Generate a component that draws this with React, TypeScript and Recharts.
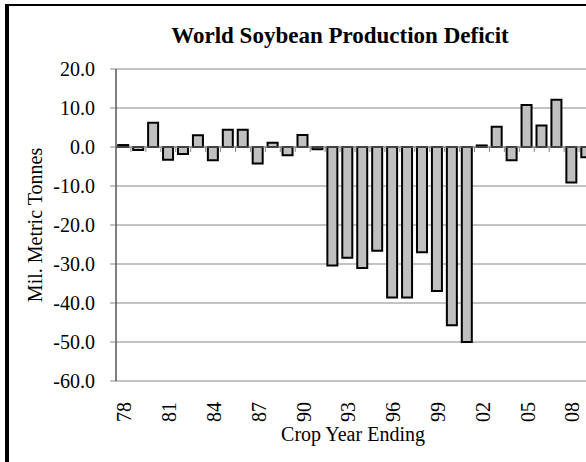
import React from 'react'
import { Bar, BarChart, CartesianGrid, Label, ReferenceLine, XAxis, YAxis } from 'recharts'

// crop years, two-digit, 1978 through 2009
const YEARS = [
  '78', '79', '80', '81', '82', '83', '84', '85', '86', '87', '88',
  '89', '90', '91', '92', '93', '94', '95', '96', '97', '98', '99',
  '00', '01', '02', '03', '04', '05', '06', '07', '08', '09',
]

// production deficit, million metric tonnes
const DEFICIT = [
  0.5, -0.8, 6.2, -3.3, -1.8, 3.0, -3.4, 4.4, 4.4, -4.2, 1.1,
  -2.1, 3.1, -0.6, -30.4, -28.4, -31.0, -26.6, -38.6, -38.6, -27.0, -36.9,
  -45.7, -50.0, 0.4, 5.2, -3.4, 10.8, 5.5, 12.1, -9.1, -2.6,
]

const Y_TICKS = [-60, -50, -40, -30, -20, -10, 0, 10, 20]

const data = YEARS.map((year, i) => ({ year, deficit: DEFICIT[i] }))

const FONT = "'Liberation Serif', 'Times New Roman', serif"
const GRID = '#868686'
const TEXT_STYLE = { fontFamily: FONT, fontSize: 20 }

function YearTick({ x, y, payload }: any) {
  return (
    <g transform={`translate(${x + 1},${y})`}>
      <text transform="rotate(-90)" textAnchor="end" dy="0.34em" fill="#000" style={TEXT_STYLE}>
        {payload.value}
      </text>
    </g>
  )
}

function ValueTick({ x, y, payload }: any) {
  return (
    <text x={x} y={y} textAnchor="end" dy="0.34em" fill="#000" style={TEXT_STYLE}>
      {payload.value.toFixed(1)}
    </text>
  )
}

// zero line with the category tick marks hanging below it
function ZeroAxis({ x1, x2, y1 }: any) {
  const step = (x2 - x1) / YEARS.length
  const marks = YEARS.map((_, i) => x1 + step * (i + 1))
  return (
    <g>
      <line x1={x1} x2={x2} y1={y1} y2={y1} stroke={GRID} strokeWidth={1} />
      {marks.map((mx) => (
        <line key={mx} x1={mx} x2={mx} y1={y1} y2={y1 + 5} stroke={GRID} strokeWidth={1} />
      ))}
    </g>
  )
}

export default function App() {
  return (
    <div
      style={{
        position: 'absolute',
        left: 0,
        top: 0,
        width: 586,
        height: 462,
        overflow: 'hidden',
        background: '#fff',
      }}
    >
      <div
        style={{
          position: 'absolute',
          left: 5,
          top: 4,
          width: 700,
          height: 600,
          borderTop: '2px solid #000',
          borderLeft: '4px solid #000',
        }}
      />
      <div
        style={{
          position: 'absolute',
          left: 0,
          top: 24,
          width: 680,
          textAlign: 'center',
          fontFamily: FONT,
          fontWeight: 'bold',
          fontSize: 23,
          lineHeight: '23px',
        }}
      >
        World Soybean Production Deficit
      </div>
      <div style={{ position: 'absolute', left: 0, top: 0 }}>
        <BarChart
          width={600}
          height={462}
          data={data}
          margin={{ top: 69, right: 6, left: 0, bottom: 0 }}
          barCategoryGap="15%"
        >
          <CartesianGrid horizontal vertical={false} stroke={GRID} />
          <XAxis
            dataKey="year"
            height={81}
            axisLine={false}
            tickLine={false}
            tickSize={6}
            tickMargin={15}
            interval={2}
            tick={<YearTick />}
          >
            <Label
              value="Crop Year Ending"
              position="insideBottom"
              offset={21}
              dx={-2}
              fill="#000"
              style={TEXT_STYLE}
            />
          </XAxis>
          <YAxis
            width={116}
            domain={[-60, 20]}
            ticks={Y_TICKS}
            interval={0}
            axisLine={{ stroke: '#000' }}
            tickLine={{ stroke: GRID }}
            tickSize={6}
            tickMargin={15}
            tick={<ValueTick />}
          >
            <Label
              value="Mil. Metric Tonnes"
              angle={-90}
              position="insideLeft"
              offset={35}
              fill="#000"
              style={{ ...TEXT_STYLE, textAnchor: 'middle' }}
            />
          </YAxis>
          <ReferenceLine y={0} shape={<ZeroAxis />} />
          <Bar
            dataKey="deficit"
            fill="#c0c0c0"
            stroke="#000"
            strokeWidth={2}
            isAnimationActive={false}
          />
        </BarChart>
      </div>
    </div>
  )
}
